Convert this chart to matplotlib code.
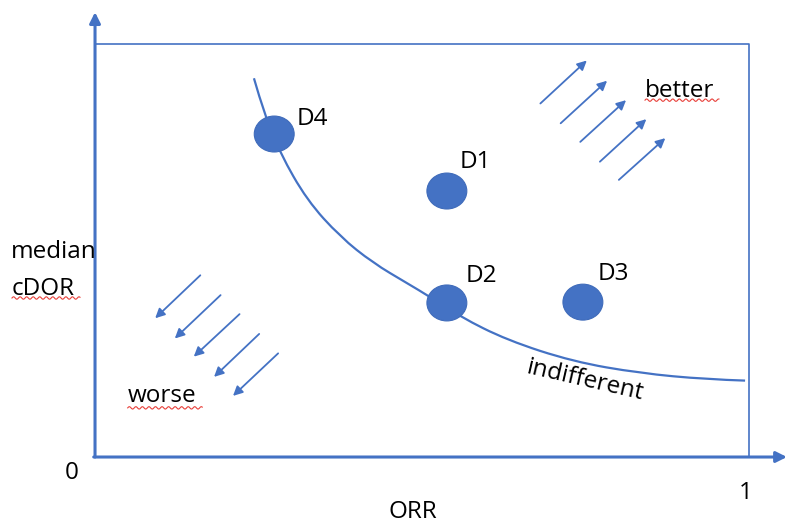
import matplotlib.pyplot as plt
import numpy as np
from matplotlib.patches import Ellipse, PathPatch
from matplotlib.path import Path

# drug positions (ORR, median cDOR), both scaled 0..1
drug_names = ['D4', 'D1', 'D2', 'D3']
drug_orr = [0.274, 0.538, 0.538, 0.746]
drug_cdor = [0.782, 0.644, 0.373, 0.375]
label_x = [0.309, 0.558, 0.567, 0.769]
label_y = [0.804, 0.700, 0.424, 0.429]

# indifference curve
curve_orr = [0.243, 0.260, 0.283, 0.324, 0.375, 0.425, 0.477, 0.512,
             0.558, 0.630, 0.731, 0.833, 0.935, 0.994]
curve_cdor = [0.917, 0.824, 0.736, 0.622, 0.533, 0.470, 0.421, 0.388,
              0.340, 0.283, 0.231, 0.203, 0.188, 0.185]

# direction arrows (tail -> head)
better_tail = [(0.681, 0.856), (0.712, 0.808), (0.742, 0.763), (0.772, 0.715), (0.801, 0.671)]
better_head = [(0.752, 0.960), (0.783, 0.911), (0.812, 0.864), (0.843, 0.818), (0.872, 0.772)]
worse_tail = [(0.161, 0.440), (0.192, 0.392), (0.221, 0.346), (0.251, 0.298), (0.280, 0.251)]
worse_head = [(0.092, 0.336), (0.122, 0.287), (0.151, 0.243), (0.182, 0.194), (0.211, 0.148)]

BLUE = '#4472C4'
plt.rcParams['font.family'] = ['Open Sans', 'DejaVu Sans']

fig = plt.figure(figsize=(7.87, 5.25), dpi=100)
ax = fig.add_axes([0, 0, 1, 1])
ax.set_xlim(-0.1453, 1.0581)
ax.set_ylim(-0.1646, 1.1065)
ax.axis('off')

# frame (top and right)
ax.plot([0, 1, 1], [1, 1, 0], color=BLUE, lw=1.2)

# axes with arrow heads
ax.annotate('', xy=(0, 1.077), xytext=(0, 0),
            arrowprops=dict(arrowstyle='-|>', color=BLUE, lw=2.2, mutation_scale=16,
                            shrinkA=0, shrinkB=0))
ax.annotate('', xy=(1.058, 0), xytext=(-0.002, 0),
            arrowprops=dict(arrowstyle='-|>', color=BLUE, lw=2.2, mutation_scale=16,
                            shrinkA=0, shrinkB=0))

# indifference curve, drawn as a smooth quadratic path through the read points
pts = list(zip(curve_orr, curve_cdor))
verts = [pts[0]]
codes = [Path.MOVETO]
for i in range(1, len(pts) - 1):
    nxt = pts[i + 1] if i == len(pts) - 2 else ((pts[i][0] + pts[i + 1][0]) / 2,
                                                  (pts[i][1] + pts[i + 1][1]) / 2)
    verts += [pts[i], nxt]
    codes += [Path.CURVE3, Path.CURVE3]
ax.add_patch(PathPatch(Path(verts, codes), facecolor='none', edgecolor=BLUE, lw=1.6))

# drugs
for x, y in zip(drug_orr, drug_cdor):
    ax.add_patch(Ellipse((x, y), 0.061, 0.087, facecolor=BLUE, edgecolor='#3F6BBA',
                         lw=0.8, zorder=3))
for name, x, y in zip(drug_names, label_x, label_y):
    ax.text(x, y, name, fontsize=17.5, ha='left', va='baseline')

# arrows
for (tx, ty), (hx, hy) in zip(better_tail + worse_tail, better_head + worse_head):
    ax.annotate('', xy=(hx, hy), xytext=(tx, ty),
                arrowprops=dict(arrowstyle='-|>', color=BLUE, lw=1.3, mutation_scale=14,
                                shrinkA=0, shrinkB=0))

fs = 17.5
ax.text(0.841, 0.872, 'better', fontsize=fs, va='baseline')
ax.text(0.050, 0.133, 'worse', fontsize=fs, va='baseline')
ax.text(-0.128, 0.482, 'median', fontsize=fs, va='baseline')
ax.text(-0.127, 0.392, 'cDOR', fontsize=fs, va='baseline')
ax.text(0.749, 0.184, 'indifferent', fontsize=fs, ha='center', va='center',
        rotation=-13, rotation_mode='anchor')
ax.text(-0.035, -0.053, '0', fontsize=fs, ha='center', va='baseline')
ax.text(0.995, -0.102, '1', fontsize=fs, ha='center', va='baseline')
ax.text(0.486, -0.162, 'ORR', fontsize=fs, ha='center', va='bottom')


# spell-check squiggles under some words
def squiggle(x0, x1, y):
    xs = np.linspace(x0, x1, 80)
    ys = y + 0.003 * np.sin((xs - x0) / 0.005 * np.pi)
    ax.plot(xs, ys, color='#E8403A', lw=0.8)


squiggle(0.841, 0.954, 0.864)
squiggle(-0.127, -0.023, 0.385)
squiggle(0.050, 0.164, 0.119)

fig.savefig('out.png', dpi=100)
